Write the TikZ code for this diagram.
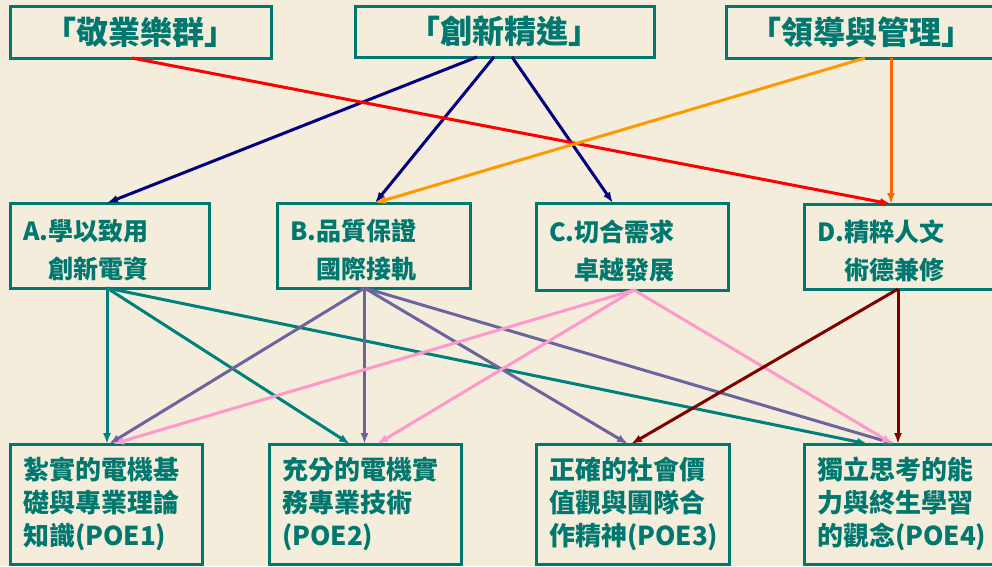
\documentclass[tikz,border=0pt]{standalone}
\usepackage{fontspec}
\setmainfont{Noto Sans CJK TC}
\usetikzlibrary{arrows.meta,calc}
\definecolor{bgc}{HTML}{F5EDDB}
\definecolor{tealc}{HTML}{00786F}
\definecolor{navyc}{HTML}{000080}
\definecolor{redc}{HTML}{FF0000}
\definecolor{orangec}{HTML}{FF9900}
\definecolor{orredc}{HTML}{FF6600}
\definecolor{tealline}{HTML}{00807A}
\definecolor{purplec}{HTML}{6A659E}
\definecolor{pinkc}{HTML}{FF99CC}
\definecolor{maroonc}{HTML}{800000}
\tikzset{
  box/.style={draw=tealc, line width=3pt, text=tealc, outer sep=0pt, anchor=north west, inner ysep=0pt},
  topbox/.style={box, font=\bfseries\fontsize{32}{36}\selectfont, align=center},
  midbox/.style={box, font=\bfseries\fontsize{25}{38}\selectfont, align=left, inner xsep=13pt},
  botbox/.style={box, font=\bfseries\fontsize{26}{33}\selectfont, align=left, inner xsep=13pt},
  conn/.style={line width=3pt, -{Latex[length=11pt,width=8pt]}},
}
\newcommand{\lowstrut}{\rule{0pt}{31pt}}
\begin{document}
\begin{tikzpicture}[x=1pt,y=-1pt]
\useasboundingbox (0,0) rectangle (992,566);
\clip (0,0) rectangle (992,566);
\fill[bgc] (0,0) rectangle (992,566);
% top row
\node[topbox, minimum width=261pt, minimum height=52pt] (t1) at (10,6) {「敬業樂群」};
\node[topbox, minimum width=299pt, minimum height=51pt] (t2) at (355,6) {「創新精進」};
\node[topbox, minimum width=270pt, minimum height=52pt] (t3) at (726,6) {「領導與管理」};
% middle row
\node[midbox, text width=173pt, minimum height=85pt] (A) at (10,203) {\lowstrut A.學以致用\\\phantom{A.}創新電資};
\node[midbox, text width=167pt, minimum height=85pt] (B) at (277,203) {\lowstrut B.品質保證\\\phantom{B.}國際接軌};
\node[midbox, text width=166pt, minimum height=87pt] (C) at (536,203) {\lowstrut C.切合需求\\\phantom{C.}卓越發展};
\node[midbox, text width=173pt, minimum height=85pt] (D) at (804,204) {\lowstrut D.精粹人文\\\phantom{D.}術德兼修};
% bottom row
\node[botbox, text width=166pt, minimum height=120pt] (P1) at (10,444) {紮實的電機基\\礎與專業理論\\知識(POE1)};
\node[botbox, text width=166pt, minimum height=120pt] (P2) at (269,444) {充分的電機實\\務專業技術\\(POE2)};
\node[botbox, text width=167pt, minimum height=120pt] (P3) at (536,444) {正確的社會價\\值觀與團隊合\\作精神(POE3)};
\node[botbox, text width=167pt, minimum height=120pt] (P4) at (804,444) {獨立思考的能\\力與終生學習\\的觀念(POE4)};
% top to middle
\draw[conn, navyc] ([xshift=-27.5pt]t2.south) -- ([xshift=-2.5pt]A.north);
\draw[conn, navyc] ([xshift=-10.5pt]t2.south) -- ([xshift=1.5pt]B.north);
\draw[conn, navyc] ([xshift=7.5pt]t2.south) -- ([xshift=-19pt]C.north);
\draw[conn, redc] ([xshift=-8.5pt]t1.south) -- ([xshift=-12.5pt]D.north);
\draw[conn, orangec] ([xshift=4pt]t3.south) -- ([xshift=1.5pt]B.north);
\draw[conn, orredc] ([xshift=30pt]t3.south) -- ([xshift=-12.5pt]D.north);
% A to bottom
\draw[conn, tealline] ([xshift=-2.5pt]A.south) -- ([xshift=1pt]P1.north);
\draw[conn, tealline] ([xshift=-2.5pt]A.south) -- ([xshift=-15pt]P2.north);
\draw[conn, tealline] ([xshift=-2.5pt]A.south) -- ([xshift=-32.5pt]P4.north);
% B to bottom
\draw[conn, purplec] ([xshift=-9pt]B.south) -- ([xshift=3pt]P1.north);
\draw[conn, purplec] ([xshift=-9pt]B.south) -- ([xshift=-0.5pt]P2.north);
\draw[conn, purplec] ([xshift=-9pt]B.south) -- ([xshift=-4.5pt]P3.north);
\draw[conn, purplec] ([xshift=-9pt]B.south) -- ([xshift=-5.5pt]P4.north);
% C to bottom
\draw[conn, pinkc] ([xshift=2pt]C.south) -- ([xshift=7pt]P1.north);
\draw[conn, pinkc] ([xshift=2pt]C.south) -- ([xshift=12pt]P2.north);
\draw[conn, pinkc] ([xshift=2pt]C.south) -- ([xshift=-7.5pt]P4.north);
% D to bottom
\draw[conn, maroonc] ([xshift=-5.5pt]D.south) -- ([xshift=-1.5pt]P3.north);
\draw[conn, maroonc] ([xshift=-5.5pt]D.south) -- ([xshift=-2.5pt]P4.north);
\end{tikzpicture}
\end{document}
